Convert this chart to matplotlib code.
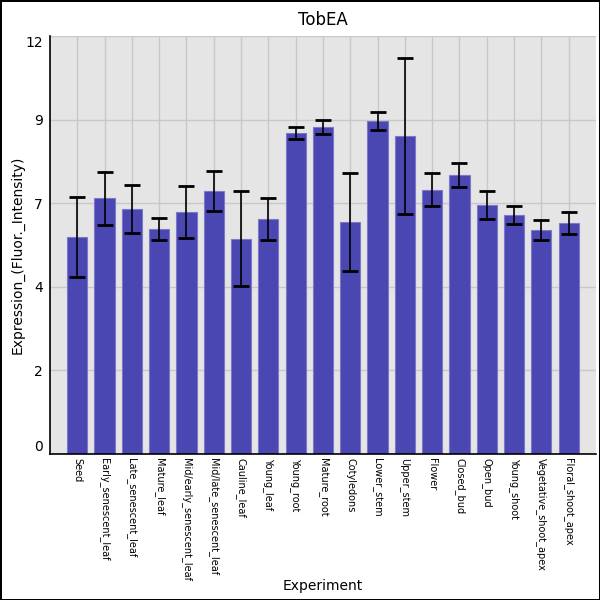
import matplotlib
matplotlib.use('Agg')
import matplotlib.pyplot as plt
import numpy as np

experiments = ['Seed', 'Early_senescent_leaf', 'Late_senescent_leaf', 'Mature_leaf',
               'Mid/early_senescent_leaf', 'Mid/late_senescent_leaf', 'Cauline_leaf',
               'Young_leaf', 'Young_root', 'Mature_root', 'Cotyledons', 'Lower_stem',
               'Upper_stem', 'Flower', 'Closed_bud', 'Open_bud', 'Young_shoot',
               'Vegetative_shoot_apex', 'Floral_shoot_apex']
expression = [6.33, 7.46, 7.15, 6.57, 7.06, 7.68, 6.28, 6.86, 9.37, 9.54,
              6.77, 9.72, 9.28, 7.71, 8.14, 7.27, 6.98, 6.54, 6.74]
errors = [1.16, 0.78, 0.70, 0.33, 0.77, 0.58, 1.39, 0.61, 0.17, 0.20,
          1.42, 0.25, 2.27, 0.48, 0.35, 0.42, 0.26, 0.29, 0.31]
y_max = 12.2


def draw_chart():
    fig = plt.figure(figsize=(6, 6), dpi=100)
    fig.patch.set_facecolor('white')
    fig.patch.set_edgecolor('black')
    fig.patch.set_linewidth(2)
    ax = fig.add_axes([0.0833, 0.2433, 0.91, 0.6967])
    ax.set_facecolor('#e5e5e5')

    x = np.arange(len(experiments))
    ax.bar(x, expression, width=0.74, color='#4a46b2', edgecolor='#7c79c9',
           linewidth=0.8, zorder=2)
    ax.errorbar(x, expression, yerr=errors, fmt='none', ecolor='black',
                elinewidth=1.2, capsize=6, capthick=2, zorder=3)

    ax.set_xlim(-1, len(experiments))
    ax.set_ylim(0, y_max)
    ticks = [y_max / 5 * k for k in range(6)]
    ax.set_yticks(ticks)
    ax.set_yticklabels([str(int(t)) for t in ticks], fontsize=10)
    labels = ax.get_yticklabels()
    labels[0].set_verticalalignment('bottom')
    labels[-1].set_verticalalignment('top')
    ax.set_xticks(x)
    ax.set_xticklabels(experiments, rotation=270, fontsize=7, ha='center', va='top')
    ax.tick_params(axis='both', length=0, pad=5)
    ax.tick_params(axis='x', pad=3)

    ax.grid(True, color='#c8c8c8', linewidth=1, zorder=0)
    ax.set_axisbelow(True)
    for side in ['top', 'right']:
        ax.spines[side].set_visible(False)
    ax.spines['left'].set_linewidth(1.2)
    ax.spines['bottom'].set_linewidth(1.2)

    ax.set_title('TobEA', fontsize=12, pad=8)
    ax.set_ylabel('Expression_(Fluor._Intensity)', fontsize=10)
    ax.set_xlabel('Experiment', fontsize=10)
    ax.xaxis.set_label_coords(0.5, -0.298)
    ax.yaxis.set_label_coords(-0.046, 0.476)
    fig.savefig('out.png', dpi=100)


draw_chart()
